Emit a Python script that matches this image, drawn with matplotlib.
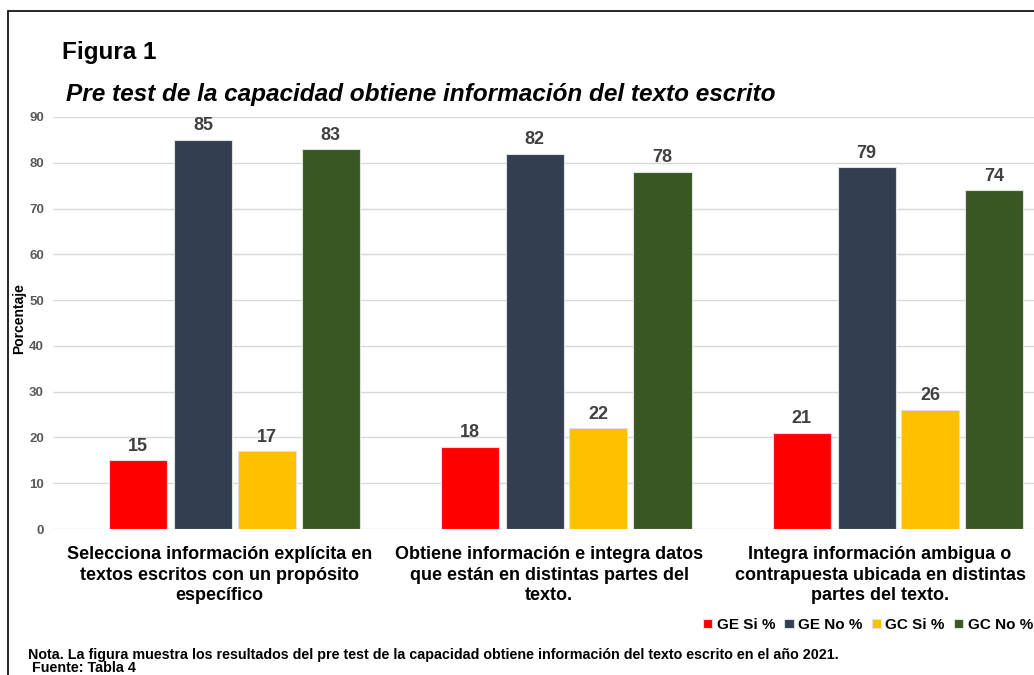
import numpy as np
import matplotlib
matplotlib.use("Agg")
import matplotlib.pyplot as plt
from matplotlib.patches import Rectangle

plt.rcParams['font.family'] = ['Liberation Sans', 'DejaVu Sans']

categorias = ['Selecciona información explícita en\ntextos escritos con un propósito\nespecífico',
              'Obtiene información e integra datos\nque están en distintas partes del\ntexto.',
              'Integra información ambigua o\ncontrapuesta ubicada en distintas\npartes del texto.']
series = ['GE Si %', 'GE No %', 'GC Si %', 'GC No %']
ge_si = [15, 18, 21]
ge_no = [85, 82, 79]
gc_si = [17, 22, 26]
gc_no = [83, 78, 74]
colores = ['#FF0000', '#333F50', '#FFC000', '#385723']

W, H = 1034, 675
fig = plt.figure(figsize=(W / 100, H / 100), dpi=100)

# plot area (in pixels, then converted) -- extends past right edge like the cropped original
left, right, top, bottom = 53, 1064, 117, 529
ax = fig.add_axes([left / W, 1 - bottom / H, (right - left) / W, (bottom - top) / H])

x = np.arange(len(categorias))
ancho = 0.175
offsets = [-0.29, -0.095, 0.097, 0.29]
for vals, off, col, nom in zip([ge_si, ge_no, gc_si, gc_no], offsets, colores, series):
    bars = ax.bar(x + off, vals, ancho, color=col, label=nom, edgecolor='#e0e0e0', linewidth=0.8, zorder=3)
    for b, v in zip(bars, vals):
        ax.text(b.get_x() + b.get_width() / 2, v + 1.2, str(v), ha='center', va='bottom',
                fontsize=13, fontweight='bold', color='#404040')

ax.set_xlim((left - 234.5) / 332, 2 + (right - 898) / 332)
ax.set_ylim(0, 90)
ax.set_yticks(range(0, 91, 10))
ax.yaxis.grid(True, color='#d9d9d9', linewidth=1, zorder=0)
ax.set_axisbelow(True)
for s in ax.spines.values():
    s.set_visible(False)
ax.tick_params(axis='both', length=0)
ax.tick_params(axis='y', labelsize=9.5, labelcolor='#595959', pad=6.5)
for t in ax.get_yticklabels():
    t.set_fontweight('bold')
# labels sit a bit left of the bar groups in the original
ax.set_xticks(x - [15 / 332, 17 / 332, 18 / 332])
ax.set_xticklabels(categorias, fontsize=13, fontweight='bold', color='black', linespacing=1.3)
ax.tick_params(axis='x', pad=12)
ax.set_ylabel('Porcentaje', fontsize=10, fontweight='bold')
ax.yaxis.set_label_coords(-0.027, 0.51)

fig.text(62 / W, 1 - 52 / H, 'Figura 1', fontsize=17.5, fontweight='bold', va='center', ha='left')
fig.text(66 / W, 1 - 95 / H, 'Pre test de la capacidad obtiene información del texto escrito',
         fontsize=17.6, fontweight='bold', style='italic', va='center', ha='left')

fig.legend(loc='center left', bbox_to_anchor=(703 / W, 1 - 625 / H), ncol=4, frameon=False,
           prop={'weight': 'bold', 'size': 11}, handlelength=0.6, handleheight=0.6,
           handletextpad=0.3, columnspacing=0.6, borderpad=0, borderaxespad=0)

fig.text(28 / W, 1 - 655 / H,
         'Nota. La figura muestra los resultados del pre test de la capacidad obtiene información del texto escrito en el año 2021.',
         fontsize=10.3, fontweight='bold', va='center', ha='left')
fig.text(32 / W, 1 - 668 / H, 'Fuente: Tabla 4', fontsize=10.3, fontweight='bold', va='center', ha='left')

# outer frame
fig.patches.append(Rectangle((8 / W, -0.1), 1.2, 1 - 11 / H + 0.1, transform=fig.transFigure,
                             fill=False, edgecolor='black', linewidth=1.2))

fig.savefig('out.png', dpi=100)
